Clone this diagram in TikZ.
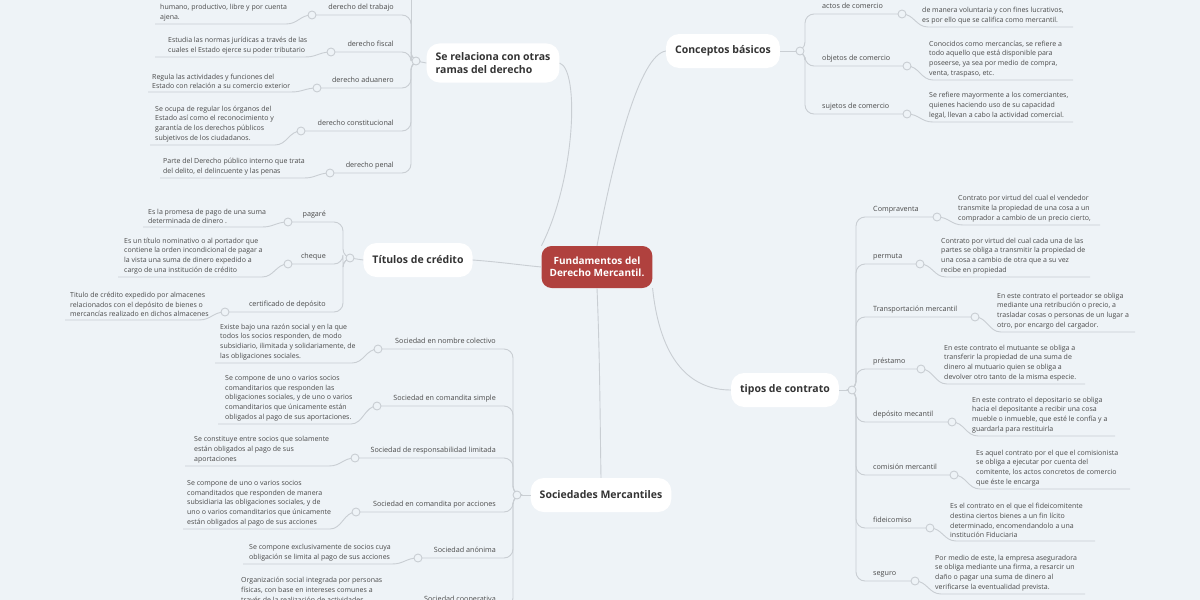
\documentclass[tikz,border=0pt]{standalone}
\usepackage{fontspec}
\setmainfont{Open Sans}
\definecolor{bg}{HTML}{EEF3F7}
\definecolor{linkc}{HTML}{C9CED3}
\definecolor{txt}{HTML}{4A4A4A}
\definecolor{rootc}{HTML}{B0413E}
\tikzset{
  link/.style={draw=linkc, line width=0.9pt},
  dot/.style={circle, draw=linkc, fill=bg, line width=0.9pt, inner sep=0pt, minimum size=8pt},
  lbl/.style={inner sep=0pt, text=txt, font=\fontsize{7.2}{9}\selectfont},
  desc/.style={inner sep=0pt, text=txt, align=left, font=\fontsize{7}{9.7}\selectfont},
  main/.style={fill=white, rounded corners=13pt, inner sep=9pt, minimum height=34pt, text=black!80, align=left, font=\fontsize{10.5}{13}\selectfont\bfseries},
  rootbox/.style={fill=rootc, rounded corners=10pt, inner sep=8pt, minimum width=110pt, minimum height=42pt, text=white, align=center, font=\fontsize{10}{12.5}\selectfont\bfseries},
}
% leaf left: name, label, line y, circle x, desc, desc x, desc line y, desc line left
\newcommand\leafL[8]{%
  \coordinate (#1c) at (#4,#3);
  \draw[link,rounded corners=9pt] (\hubn) -- (\stemx,\huby) |- (#1c);
  \draw[link] (#1c) .. controls +(-12,0) and +(12,0) .. (#4-26,#7) -- (#8,#7);
  \node[dot] at (#1c) {};
  \node[lbl,anchor=base east] (#1) at (\stemx-17,#3-6) {#2};
  \node[desc,anchor=south west] (#1d) at (#6,#7-3) {#5};
}
% leaf right: name, label, line y, circle x, desc, desc x, desc line y, desc line right
\newcommand\leafR[8]{%
  \coordinate (#1c) at (#4,#3);
  \draw[link,rounded corners=9pt] (\hubn) -- (\stemx,\huby) |- (#1c);
  \draw[link] (#1c) .. controls +(12,0) and +(-12,0) .. (#4+26,#7) -- (#8,#7);
  \node[dot] at (#1c) {};
  \node[lbl,anchor=base west] (#1) at (\stemx+17,#3-6) {#2};
  \node[desc,anchor=south west] (#1d) at (#6,#7-3) {#5};
}
\begin{document}
\begin{tikzpicture}[x=1pt,y=-1pt]
  \fill[bg] (0,0) rectangle (1200,600);
  \useasboundingbox (0,0) rectangle (1200,600);
  \clip (0,0) rectangle (1200,600);

  \coordinate (hA) at (416,61);
  \coordinate (hB) at (800,51);
  \coordinate (hC) at (350,258);
  \coordinate (hD) at (517,495);
  \coordinate (hE) at (852,390);

  \node[rootbox] (root) at (597,267) {Fundamentos del\\Derecho Mercantil.};
  \node[main] (ramas) at (493,63) {Se relaciona con otras\\ramas del derecho};
  \node[main] (conceptos) at (723,51) {Conceptos básicos};
  \node[main] (titulos) at (418,260) {Títulos de crédito};
  \node[main] (sociedades) at (601,495) {Sociedades Mercantiles};
  \node[main] (contratos) at (785,390) {tipos de contrato};

  \draw[link] (root.north west) .. controls (575,180) and (580,70) .. (ramas.east);
  \draw[link] (root.north) .. controls (615,150) and (640,55) .. (conceptos.west);
  \draw[link] (root.west) .. controls (520,265) and (500,262) .. (titulos.east);
  \draw[link] (root.south) .. controls (600,360) and (600,420) .. (sociedades.north);
  \draw[link] (root.south east) .. controls (660,360) and (690,390) .. (contratos.west);
  \draw[link] (hA) -- (ramas.west);
  \draw[link] (hB) -- (conceptos.east);
  \draw[link] (hC) -- (titulos.west);
  \draw[link] (hD) -- (sociedades.west);
  \draw[link] (hE) -- (contratos.east);

  % otras ramas
  \def\hubn{hA}\def\stemx{411}\def\huby{61}
  \draw[link] (\stemx,61) -- (\stemx,-10);
  \leafL{trab}{derecho del trabajo}{15}{312}{humano, productivo, libre y por cuenta\\ajena.}{160}{24}{155}
  \leafL{fisc}{derecho fiscal}{52}{331}{Estudia las normas jurídicas a través de las\\cuales el Estado ejerce su poder tributario}{168}{57}{155}
  \leafL{adua}{derecho aduanero}{88}{317}{Regula las actividades y funciones del\\Estado con relación a su comercio exterior}{152}{92}{148}
  \leafL{const}{derecho constitucional}{131}{301}{Se ocupa de regular los órganos del\\Estado así como el reconocimiento y\\garantía de los derechos públicos\\subjetivos de los ciudadanos.}{155}{145}{150}
  \leafL{penal}{derecho penal}{173}{330}{Parte del Derecho público interno que trata\\del delito, el delincuente y las penas}{163}{178}{160}

  % conceptos
  \def\hubn{hB}\def\stemx{805}\def\huby{51}
  \leafR{actos}{actos de comercio}{14}{902}{de manera voluntaria y con fines lucrativos,\\es por ello que se califica como mercantil.}{922}{27}{1073}
  \leafR{objetos}{objetos de comercio}{66}{907}{Conocidos como mercancías, se refiere a\\todo aquello que está disponible para\\poseerse, ya sea por medio de compra,\\venta, traspaso, etc.}{929}{80}{1073}
  \leafR{sujetos}{sujetos de comercio}{114}{907}{Se refiere mayormente a los comerciantes,\\quienes haciendo uso de su capacidad\\legal, llevan a cabo la actividad comercial.}{929}{122}{1073}

  % titulos de credito
  \def\hubn{hC}\def\stemx{343}\def\huby{258}
  \leafL{pagare}{pagaré}{222}{288}{Es la promesa de pago de una suma\\determinada de dinero .}{148}{227}{143}
  \leafL{cheque}{cheque}{264}{288}{Es un título nominativo o al portador que\\contiene la orden incondicional de pagar a\\la vista una suma de dinero expedido a\\cargo de una institución de crédito}{124}{277}{118}
  \leafL{certif}{certificado de depósito}{312}{225}{Titulo de crédito expedido por almacenes\\relacionados con el depósito de bienes o\\mercancías realizado en dichos almacenes}{70}{320}{65}

  % sociedades
  \def\hubn{hD}\def\stemx{513}\def\huby{495}
  \leafL{colect}{Sociedad en nombre colectivo}{349}{378}{Existe bajo una razón social y en la que\\todos los socios responden, de modo\\subsidiario, ilimitada y solidariamente, de\\las obligaciones sociales.}{220}{363}{215}
  \leafL{simple}{Sociedad en comandita simple}{406}{377}{Se compone de uno o varios socios\\comanditarios que responden las\\obligaciones sociales, y de uno o varios\\comanditarios que únicamente están\\obligados al pago de sus aportaciones.}{225}{424}{218}
  \leafL{limit}{Sociedad de responsabilidad limitada}{458}{355}{Se constituye entre socios que solamente\\están obligados al pago de sus\\aportaciones}{194}{466}{185}
  \leafL{acciones}{Sociedad en comandita por acciones}{512}{356}{Se compone de uno o varios socios\\comanditados que responden de manera\\subsidiaria las obligaciones sociales, y de\\uno o varios comanditarios que únicamente\\están obligados al pago de sus acciones}{187}{529}{183}
  \leafL{anon}{Sociedad anónima}{558}{418}{Se compone exclusivamente de socios cuya\\obligación se limita al pago de sus acciones}{249}{564}{243}
  \leafL{coop}{Sociedad cooperativa}{607}{395}{Organización social integrada por personas\\físicas, con base en intereses comunes a\\través de la realización de actividades\\económicas}{241}{615}{236}

  % contratos
  \def\hubn{hE}\def\stemx{856}\def\huby{390}
  \leafR{compra}{Compraventa}{217}{937}{Contrato por virtud del cual el vendedor\\transmite la propiedad de una cosa a un\\comprador a cambio de un precio cierto,}{958}{225}{1100}
  \leafR{permuta}{permuta}{264}{920}{Contrato por virtud del cual cada una de las\\partes se obliga a transmitir la propiedad de\\una cosa a cambio de otra que a su vez\\recibe en propiedad}{941}{277}{1090}
  \leafR{transp}{Transportación mercantil}{317}{975}{En este contrato el porteador se obliga\\mediante una retribución o precio, a\\trasladar cosas o personas de un lugar a\\otro, por encargo del cargador.}{997}{332}{1135}
  \leafR{prest}{préstamo}{369}{921}{En este contrato el mutuante se obliga a\\transferir la propiedad de una suma de\\dinero al mutuario quien se obliga a\\devolver otro tanto de la misma especie.}{944}{384}{1085}
  \leafR{depos}{depósito mecantil}{422}{952}{En este contrato el depositario se obliga\\hacia el depositante a recibir una cosa\\mueble o inmueble, que esté le confía y a\\guardarla para restituirla}{972}{436}{1115}
  \leafR{comis}{comisión mercantil}{475}{954}{Es aquel contrato por el que el comisionista\\se obliga a ejecutar  por cuenta del\\comitente, los actos concretos de comercio\\que éste le encarga}{976}{489}{1130}
  \leafR{fideic}{fideicomiso}{528}{930}{Es el contrato en el que el fideicomitente\\destina ciertos bienes a un fin lícito\\determinado, encomendandolo a una\\institución Fiduciaria}{950}{541}{1095}
  \leafR{seguro}{seguro}{581}{915}{Por medio de este, la empresa aseguradora\\se obliga mediante una firma, a resarcir un\\daño o pagar una suma de dinero al\\verificarse la eventualidad prevista.}{935}{594}{1085}

  % hub dots on top
  \foreach \h in {hA,hB,hC,hD,hE} \node[dot] at (\h) {};
\end{tikzpicture}
\end{document}
